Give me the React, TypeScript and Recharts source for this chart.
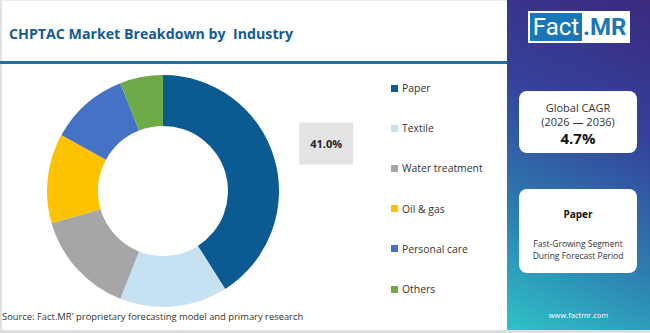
import React from 'react'
import { PieChart, Pie, Cell } from 'recharts'

// ─── Data ─────────────────────────────────────────────────────────────────────

const industries = ['Paper', 'Textile', 'Water treatment', 'Oil & gas', 'Personal care', 'Others']
const shares = [41.0, 15.0, 14.5, 12.5, 11.0, 6.0]
const colors = ['#0b5a92', '#c6e1f2', '#a6a6a9', '#fdc200', '#4472c4', '#6eab48']

const FONT = '"Open Sans", Lato, sans-serif'

const data = industries.map((name, i) => ({ name, value: shares[i] }))

// ─── Label (only the leading segment gets a callout box) ──────────────────────

function PaperLabel(props: any) {
  const { index, cx, cy, midAngle, outerRadius, value } = props
  if (index !== 0) return null
  const RAD = Math.PI / 180
  const r = outerRadius + 54
  const x = cx + r * Math.cos(-midAngle * RAD)
  const y = cy + r * Math.sin(-midAngle * RAD)
  return (
    <g>
      <rect x={x - 27} y={y - 21} width={54} height={42} fill="#e4e4e6" />
      <text
        x={x}
        y={y}
        textAnchor="middle"
        dominantBaseline="central"
        fontFamily={FONT}
        fontSize={11}
        fontWeight={700}
        fill="#222"
      >
        {Number(value).toFixed(1)}%
      </text>
    </g>
  )
}

// ─── Component ────────────────────────────────────────────────────────────────

export default function App() {
  return (
    <div
      style={{
        position: 'fixed',
        left: 0,
        top: 0,
        width: 650,
        height: 333,
        background: '#fff',
        fontFamily: FONT,
        overflow: 'hidden',
      }}
    >
      {/* frame */}
      <div style={{ position: 'absolute', left: 0, top: 0, width: 650, height: 1, background: '#ececec' }} />
      <div style={{ position: 'absolute', left: 0, top: 0, width: 2, height: 333, background: '#e2e2e2' }} />
      <div style={{ position: 'absolute', left: 0, top: 330, width: 650, height: 3, background: '#dedede' }} />

      {/* title */}
      <div
        style={{
          position: 'absolute',
          left: 9,
          top: 24,
          fontSize: 14.2,
          fontWeight: 700,
          color: '#145b94',
          whiteSpace: 'pre',
        }}
      >
        CHPTAC Market Breakdown by  Industry
      </div>

      {/* blue rule */}
      <div style={{ position: 'absolute', left: 0, top: 61, width: 507, height: 3, background: '#1f6ea6' }} />

      {/* right panel */}
      <div
        style={{
          position: 'absolute',
          left: 507,
          top: 0,
          width: 143,
          height: 330,
          background: 'linear-gradient(205deg, #3b2a7e 0%, #35409a 35%, #2d7fb0 70%, #2fc2c8 100%)',
        }}
      >
        {/* logo */}
        <div
          style={{
            position: 'absolute',
            left: 21,
            top: 11,
            width: 102,
            height: 32,
            background: '#fff',
          }}
        >
          <div
            style={{
              position: 'absolute',
              left: 2,
              top: 2,
              width: 52,
              height: 28,
              background: '#1a77b6',
              color: '#fff',
              fontSize: 24,
              lineHeight: '28px',
              textAlign: 'center',
              fontFamily: 'Roboto, sans-serif',
            }}
          >
            Fact
          </div>
          <div
            style={{
              position: 'absolute',
              left: 55,
              top: 2,
              height: 28,
              color: '#1a77b6',
              fontSize: 24,
              lineHeight: '28px',
              fontWeight: 700,
              fontFamily: 'Roboto, sans-serif',
            }}
          >
            .MR
          </div>
        </div>

        {/* CAGR card */}
        <div
          style={{
            position: 'absolute',
            left: 12,
            top: 91,
            width: 118,
            height: 62,
            background: '#fff',
            borderRadius: 8,
            textAlign: 'center',
            color: '#333',
          }}
        >
          <div style={{ position: 'absolute', top: 9, width: '100%', fontSize: 11 }}>Global CAGR</div>
          <div style={{ position: 'absolute', top: 23, width: '100%', fontSize: 11 }}>(2026 — 2036)</div>
          <div style={{ position: 'absolute', top: 37, width: '100%', fontSize: 15, fontWeight: 700, color: '#111' }}>
            4.7%
          </div>
        </div>

        {/* segment card */}
        <div
          style={{
            position: 'absolute',
            left: 12,
            top: 189,
            width: 118,
            height: 84,
            background: '#fff',
            borderRadius: 8,
            textAlign: 'center',
            color: '#333',
          }}
        >
          <div style={{ position: 'absolute', top: 18, width: '100%', fontSize: 10, fontWeight: 700, color: '#111' }}>
            Paper
          </div>
          <div style={{ position: 'absolute', top: 49, width: '100%', fontSize: 8.5, lineHeight: '12px' }}>
            Fast-Growing Segment
            <br />
            During Forecast Period
          </div>
        </div>

        <div
          style={{
            position: 'absolute',
            left: 0,
            top: 310,
            width: 143,
            textAlign: 'center',
            fontSize: 7.5,
            color: '#fff',
          }}
        >
          www.factmr.com
        </div>
      </div>

      {/* donut */}
      <div style={{ position: 'absolute', left: 0, top: 0 }}>
        <PieChart width={380} height={333} margin={{ top: 0, right: 0, bottom: 0, left: 0 }}>
          <Pie
            data={data}
            dataKey="value"
            nameKey="name"
            cx={163}
            cy={191}
            innerRadius={65}
            outerRadius={116}
            startAngle={90}
            endAngle={-270}
            stroke="none"
            label={PaperLabel}
            labelLine={false}
            isAnimationActive={false}
          >
            {data.map((d, i) => (
              <Cell key={d.name} fill={colors[i]} />
            ))}
          </Pie>
        </PieChart>
      </div>

      {/* legend */}
      {industries.map((name, i) => (
        <div
          key={name}
          style={{
            position: 'absolute',
            left: 391,
            top: 81 + i * 40.2,
            height: 14,
            display: 'flex',
            alignItems: 'center',
            fontSize: 10.4,
            color: '#333',
            whiteSpace: 'nowrap',
          }}
        >
          <span style={{ display: 'inline-block', width: 7, height: 7, background: colors[i], marginRight: 4 }} />
          {name}
        </div>
      ))}

      {/* source */}
      <div style={{ position: 'absolute', left: 2, top: 310, fontSize: 9.4, color: '#333', whiteSpace: 'nowrap' }}>
        Source: Fact.MR' proprietary forecasting model and primary research
      </div>
    </div>
  )
}
